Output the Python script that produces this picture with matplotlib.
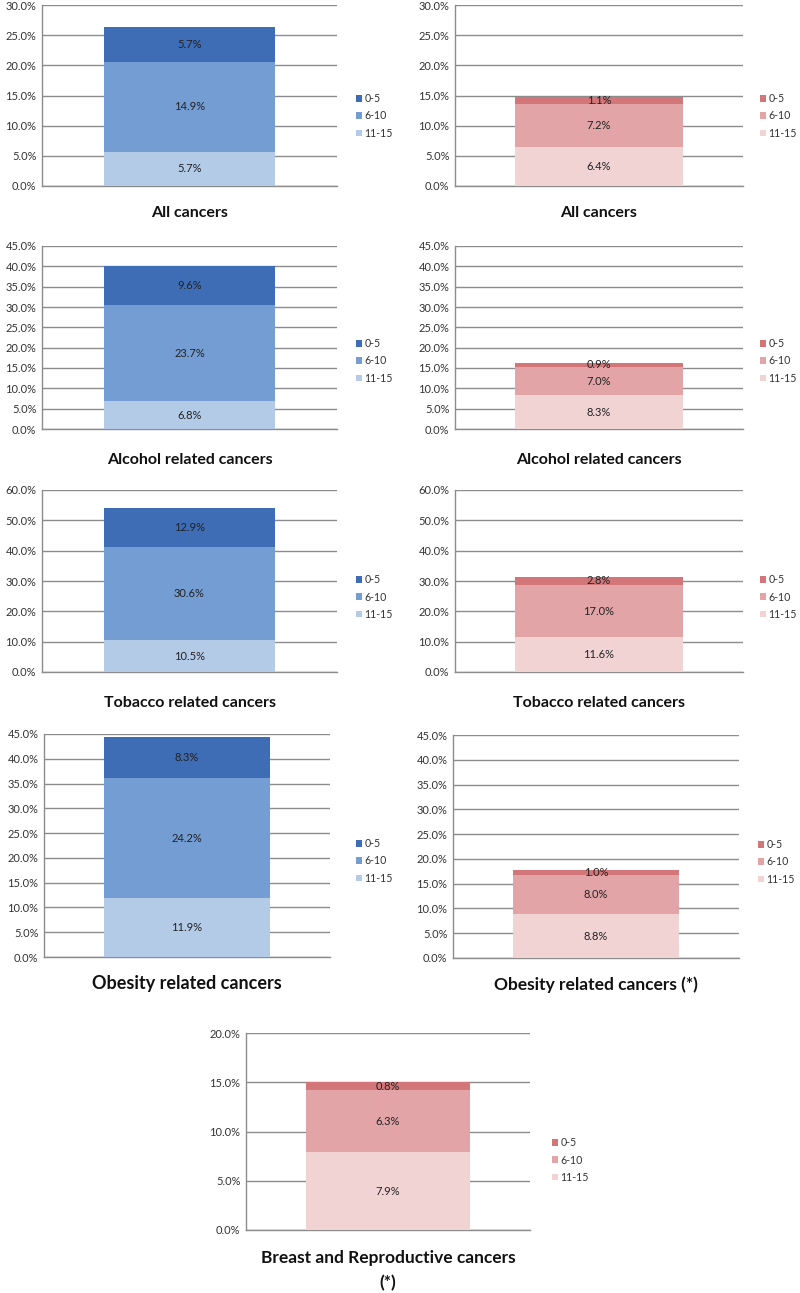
import matplotlib
matplotlib.use("Agg")
import matplotlib.pyplot as plt
from matplotlib.ticker import FuncFormatter, MultipleLocator

plt.rcParams['font.family'] = ['Lato', 'DejaVu Sans']

W, H = 800, 1293
groups = ["0-5", "6-10", "11-15"]

# values (percent) per panel: 11-15 (bottom), 6-10 (middle), 0-5 (top)
titles = ["All cancers", "All cancers",
          "Alcohol related cancers", "Alcohol related cancers",
          "Tobacco related cancers", "Tobacco related cancers",
          "Obesity related cancers", "Obesity related cancers (*)",
          "Breast and Reproductive cancers\n(*)"]
v_11_15 = [5.7, 6.4, 6.8, 8.3, 10.5, 11.6, 11.9, 8.8, 7.9]
v_6_10 = [14.9, 7.2, 23.7, 7.0, 30.6, 17.0, 24.2, 8.0, 6.3]
v_0_5 = [5.7, 1.1, 9.6, 0.9, 12.9, 2.8, 8.3, 1.0, 0.8]
ymax = [30, 30, 45, 45, 60, 60, 45, 45, 20]
ystep = [5, 5, 5, 5, 10, 10, 5, 5, 5]
palette = ["blue", "red", "blue", "red", "blue", "red", "blue", "red", "red"]

colors = {
    "blue": {"0-5": "#3E6DB5", "6-10": "#739DD3", "11-15": "#B4CBE8"},
    "red": {"0-5": "#D2767A", "6-10": "#E2A4A6", "11-15": "#F2D3D3"},
}

# layout in pixels: (left, top, right, bottom, legend_x, legend_y_center, title_y, title_size)
layout = [
    (42, 5, 337, 186, 356, 116, 213, 11.5),
    (455, 5, 743, 186, 760, 116, 213, 11.5),
    (42, 246, 337, 429, 356, 361, 460, 11.5),
    (455, 246, 743, 429, 760, 361, 460, 11.5),
    (42, 490, 337, 672, 356, 597, 703, 11.5),
    (455, 490, 743, 672, 760, 597, 703, 11.5),
    (44, 734, 330, 957, 356, 861, 983, 13),
    (453, 735, 739, 958, 758, 862, 985, 12.5),
    (246, 1033, 530, 1230, 552, 1160, 1258, 12.5),
]

fig = plt.figure(figsize=(W / 100, H / 100), dpi=100)
fmt = FuncFormatter(lambda v, p: f"{v:.1f}%")

for i in range(9):
    l, t, r, b, lx, ly, ty, ts = layout[i]
    ax = fig.add_axes([l / W, 1 - b / H, (r - l) / W, (b - t) / H])
    c = colors[palette[i]]
    x = [0]
    b1 = ax.bar(x, [v_11_15[i]], width=0.58, color=c["11-15"], label="11-15", zorder=3)
    b2 = ax.bar(x, [v_6_10[i]], bottom=[v_11_15[i]], width=0.58, color=c["6-10"], label="6-10", zorder=3)
    b3 = ax.bar(x, [v_0_5[i]], bottom=[v_11_15[i] + v_6_10[i]], width=0.58, color=c["0-5"], label="0-5", zorder=3)
    for cont, vals in ((b1, v_11_15), (b2, v_6_10), (b3, v_0_5)):
        ax.bar_label(cont, labels=[f"{vals[i]:.1f}%"], label_type="center",
                     fontsize=8, color="#222222", zorder=5)
    ax.set_xlim(-0.5, 0.5)
    ax.set_ylim(0, ymax[i])
    ax.yaxis.set_major_locator(MultipleLocator(ystep[i]))
    ax.yaxis.set_major_formatter(fmt)
    ax.set_xticks([])
    ax.tick_params(axis="y", length=0, labelsize=8, labelcolor="#333333", pad=4)
    ax.grid(axis="y", color="#8c8c8c", linewidth=1.0, zorder=0)
    for s in ("top", "right"):
        ax.spines[s].set_visible(False)
    for s in ("left", "bottom"):
        ax.spines[s].set_color("#8c8c8c")
        ax.spines[s].set_linewidth(1.0)
    handles = [b3, b2, b1]
    fig.legend(handles, groups, loc="center left",
               bbox_to_anchor=(lx / W, 1 - ly / H), frameon=False,
               fontsize=7.6, handlelength=0.55, handleheight=0.6,
               handletextpad=0.25, labelspacing=0.6, borderpad=0,
               borderaxespad=0, labelcolor="#333333")
    if i < 8:
        fig.text((l + r) / 2 / W, 1 - ty / H, titles[i], ha="center", va="center",
                 fontsize=ts, fontweight="bold", color="#111111")
    else:
        line1, line2 = titles[i].split("\n")
        fig.text((l + r) / 2 / W, 1 - ty / H, line1,
                 ha="center", va="center", fontsize=ts, fontweight="bold", color="#111111")
        fig.text((l + r) / 2 / W, 1 - 1283 / H, line2,
                 ha="center", va="center", fontsize=ts, fontweight="bold", color="#111111")

fig.savefig("out.png", dpi=100, facecolor="white")
